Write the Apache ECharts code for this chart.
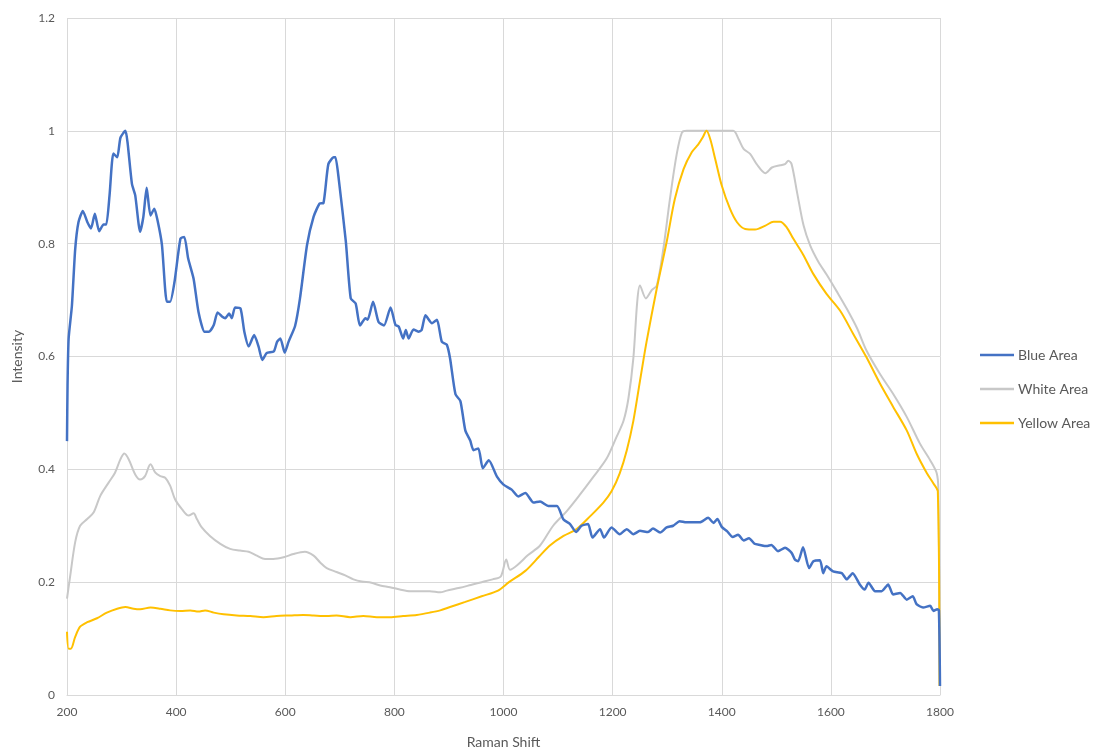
<!DOCTYPE html>
<html>
<head>
<meta charset="utf-8">
<script src="https://cdn.jsdelivr.net/npm/echarts@6/dist/echarts.min.js"></script>
<style>html,body{margin:0;padding:0;background:#fff;overflow:hidden;}#c{width:1116px;height:754px;}</style>
</head>
<body>
<div id="c"></div>
<script>
const seriesNames = ['Blue Area', 'White Area', 'Yellow Area'];
const xTicks = [200, 400, 600, 800, 1000, 1200, 1400, 1600, 1800];
const yTicks = [0, 0.2, 0.4, 0.6, 0.8, 1, 1.2];

const blueData = [[200,0.45],[201,0.55],[203,0.632],[209,0.69],[215,0.79],[221,0.838],[229,0.858],[237,0.839],[244,0.827],[251,0.853],[259,0.822],[267,0.834],[272,0.834],[278,0.886],[285,0.96],[292,0.953],[298,0.988],[307,1.0],[311,0.979],[319,0.906],[325,0.886],[334,0.821],[340,0.848],[346,0.899],[353,0.85],[360,0.862],[366,0.841],[374,0.798],[383,0.697],[389,0.697],[397,0.732],[408,0.809],[415,0.812],[422,0.774],[432,0.738],[441,0.679],[452,0.644],[460,0.644],[469,0.656],[476,0.678],[484,0.671],[490,0.668],[497,0.676],[502,0.668],[508,0.687],[518,0.685],[525,0.644],[533,0.618],[543,0.638],[551,0.618],[558,0.594],[566,0.606],[579,0.609],[585,0.626],[591,0.632],[599,0.607],[606,0.626],[618,0.654],[627,0.703],[640,0.798],[652,0.848],[663,0.871],[670,0.872],[679,0.941],[689,0.953],[692,0.953],[698,0.915],[711,0.804],[720,0.703],[729,0.694],[737,0.655],[747,0.668],[751,0.665],[761,0.697],[771,0.661],[781,0.655],[793,0.687],[802,0.656],[808,0.653],[816,0.632],[821,0.647],[826,0.632],[835,0.648],[844,0.644],[850,0.647],[857,0.673],[869,0.659],[878,0.665],[887,0.626],[896,0.621],[902,0.597],[912,0.533],[921,0.521],[930,0.469],[939,0.451],[945,0.434],[954,0.437],[962,0.402],[973,0.416],[988,0.387],[1000,0.373],[1015,0.364],[1027,0.352],[1040,0.358],[1055,0.341],[1067,0.343],[1082,0.335],[1098,0.335],[1110,0.311],[1122,0.303],[1133,0.289],[1143,0.3],[1155,0.303],[1163,0.279],[1177,0.294],[1184,0.279],[1198,0.297],[1213,0.285],[1226,0.294],[1238,0.285],[1250,0.291],[1265,0.289],[1274,0.295],[1287,0.288],[1299,0.297],[1311,0.3],[1323,0.308],[1335,0.306],[1348,0.306],[1360,0.306],[1375,0.314],[1385,0.305],[1392,0.312],[1400,0.298],[1410,0.29],[1420,0.28],[1430,0.284],[1440,0.274],[1450,0.278],[1460,0.268],[1470,0.266],[1482,0.264],[1491,0.266],[1503,0.255],[1516,0.261],[1528,0.252],[1534,0.24],[1540,0.237],[1549,0.262],[1560,0.225],[1568,0.237],[1580,0.239],[1586,0.216],[1592,0.228],[1604,0.219],[1620,0.216],[1629,0.205],[1640,0.216],[1653,0.196],[1662,0.187],[1669,0.199],[1681,0.184],[1693,0.184],[1705,0.196],[1714,0.178],[1727,0.181],[1739,0.169],[1750,0.175],[1757,0.161],[1769,0.155],[1782,0.158],[1788,0.149],[1795,0.152],[1798,0.15],[1800,0.016]];

const whiteData = [[200,0.171],[206,0.212],[215,0.271],[224,0.3],[237,0.312],[249,0.324],[261,0.353],[276,0.376],[288,0.394],[298,0.418],[305,0.428],[313,0.418],[325,0.391],[334,0.382],[343,0.388],[353,0.409],[362,0.394],[371,0.388],[380,0.385],[389,0.371],[398,0.347],[411,0.329],[423,0.318],[432,0.322],[438,0.312],[447,0.297],[462,0.282],[481,0.268],[499,0.259],[517,0.256],[533,0.254],[548,0.247],[563,0.241],[578,0.241],[597,0.244],[615,0.25],[636,0.254],[652,0.247],[664,0.235],[676,0.225],[694,0.218],[710,0.212],[725,0.205],[740,0.201],[758,0.199],[774,0.194],[792,0.191],[810,0.187],[829,0.184],[847,0.184],[865,0.184],[884,0.182],[896,0.185],[920,0.19],[940,0.195],[960,0.2],[980,0.205],[995,0.21],[1005,0.24],[1012,0.222],[1025,0.23],[1045,0.248],[1067,0.265],[1091,0.3],[1116,0.326],[1140,0.355],[1165,0.387],[1189,0.419],[1207,0.457],[1220,0.486],[1229,0.526],[1238,0.597],[1245,0.696],[1250,0.726],[1261,0.703],[1272,0.718],[1281,0.726],[1293,0.791],[1305,0.879],[1317,0.956],[1327,0.997],[1336,1.0],[1380,1.0],[1421,1.0],[1431,0.985],[1440,0.968],[1452,0.959],[1464,0.941],[1480,0.925],[1492,0.935],[1507,0.939],[1516,0.941],[1522,0.947],[1528,0.941],[1538,0.891],[1550,0.832],[1562,0.797],[1577,0.768],[1593,0.744],[1611,0.715],[1629,0.685],[1648,0.65],[1665,0.611],[1690,0.569],[1714,0.534],[1739,0.493],[1763,0.446],[1782,0.416],[1794,0.393],[1797,0.364],[1800,0.02]];

const yellowData = [[200,0.112],[203,0.082],[207,0.082],[215,0.103],[224,0.121],[237,0.129],[255,0.136],[273,0.146],[292,0.153],[307,0.156],[322,0.153],[334,0.152],[353,0.155],[371,0.153],[389,0.15],[408,0.149],[426,0.15],[441,0.148],[453,0.15],[469,0.146],[487,0.143],[511,0.141],[536,0.14],[560,0.138],[584,0.14],[609,0.141],[633,0.142],[652,0.141],[676,0.14],[694,0.141],[719,0.138],[743,0.14],[768,0.138],[792,0.138],[816,0.14],[841,0.142],[865,0.146],[884,0.15],[902,0.156],[930,0.165],[960,0.175],[990,0.185],[1010,0.2],[1040,0.22],[1065,0.245],[1085,0.265],[1110,0.282],[1134,0.294],[1159,0.317],[1183,0.341],[1198,0.361],[1213,0.393],[1226,0.434],[1238,0.486],[1250,0.556],[1262,0.625],[1281,0.721],[1299,0.803],[1314,0.879],[1330,0.932],[1345,0.962],[1357,0.976],[1365,0.988],[1372,1.0],[1379,0.985],[1388,0.95],[1400,0.903],[1415,0.862],[1428,0.838],[1443,0.826],[1461,0.825],[1480,0.832],[1495,0.839],[1507,0.839],[1519,0.829],[1531,0.809],[1549,0.781],[1568,0.746],[1592,0.711],[1617,0.681],[1641,0.64],[1665,0.599],[1690,0.552],[1714,0.511],[1739,0.469],[1757,0.428],[1776,0.393],[1788,0.375],[1796,0.361],[1799,0.016]];

const colors = ['#4472C4', '#C8C8C8', '#FFC000'];
const FONT = 'Lato, "Open Sans", sans-serif';
const chart = echarts.init(document.getElementById('c'), null, {renderer: 'canvas'});
chart.setOption({
  animation: false,
  backgroundColor: '#ffffff',
  textStyle: {fontFamily: FONT},
  grid: {left: 67, right: 176, top: 18, bottom: 54, containLabel: false},
  legend: {
    orient: 'vertical', left: 975, top: 343, itemGap: 20, itemWidth: 34, itemHeight: 2.5,
    icon: 'rect',
    data: seriesNames,
    textStyle: {color: '#595959', fontSize: 14, lineHeight: 14, fontFamily: FONT, padding: [0,0,0,-1]}
  },
  xAxis: {
    type: 'value', min: xTicks[0], max: xTicks[xTicks.length-1], interval: 200,
    name: 'Raman Shift', nameLocation: 'middle', nameGap: 40,
    nameTextStyle: {color: '#595959', fontSize: 14, fontFamily: FONT},
    axisLine: {show: true, lineStyle: {color: '#d9d9d9', width: 1}},
    axisTick: {show: false},
    axisLabel: {color: '#595959', fontSize: 12, margin: 11, fontFamily: FONT,
      formatter: v => String(v)},
    splitLine: {show: true, lineStyle: {color: '#d9d9d9', width: 1}}
  },
  yAxis: {
    type: 'value', min: yTicks[0], max: yTicks[yTicks.length-1], interval: 0.2,
    name: 'Intensity', nameLocation: 'middle', nameGap: 43, nameRotate: 90,
    nameTextStyle: {color: '#595959', fontSize: 14, fontFamily: FONT},
    axisLine: {show: false}, axisTick: {show: false},
    axisLabel: {color: '#595959', fontSize: 12, margin: 12, fontFamily: FONT,
      formatter: v => String(+v.toFixed(1))},
    splitLine: {show: true, lineStyle: {color: '#d9d9d9', width: 1}}
  },
  series: [
    {name: seriesNames[0], type: 'line', data: blueData, symbol: 'none', smooth: 0.2,
     lineStyle: {color: colors[0], width: 2.5}, itemStyle: {color: colors[0]}, z: 4},
    {name: seriesNames[1], type: 'line', data: whiteData, symbol: 'none', smooth: 0.3,
     lineStyle: {color: colors[1], width: 2}, itemStyle: {color: colors[1]}, z: 2},
    {name: seriesNames[2], type: 'line', data: yellowData, symbol: 'none', smooth: 0.3,
     lineStyle: {color: colors[2], width: 2}, itemStyle: {color: colors[2]}, z: 3}
  ]
});
</script>
</body>
</html>
